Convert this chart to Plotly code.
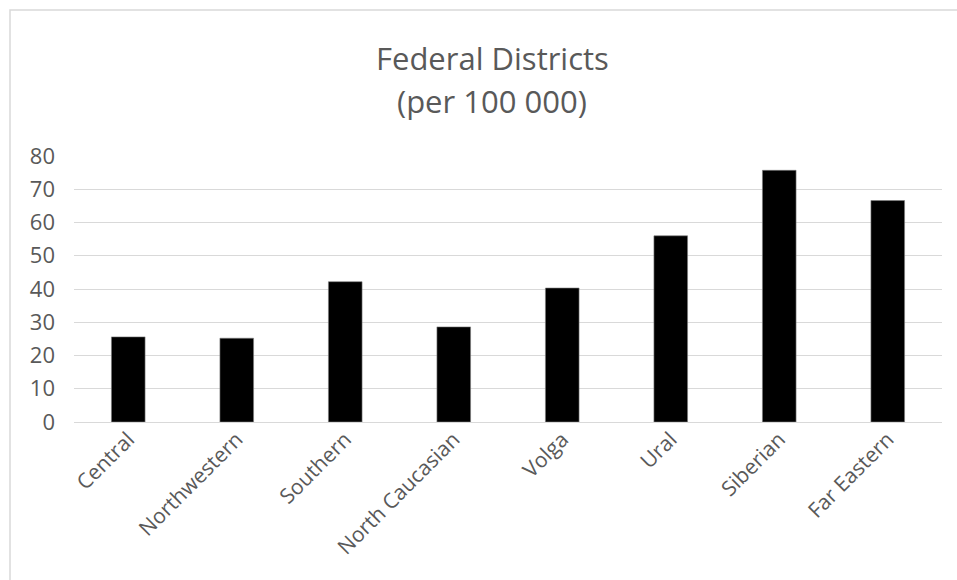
import plotly.graph_objects as go

# Rate by federal district, per 100 000 population
districts = ["Central", "Northwestern", "Southern", "North Caucasian",
             "Volga", "Ural", "Siberian", "Far Eastern"]
rates = [25.6, 25.2, 42.2, 28.6, 40.3, 56.0, 75.7, 66.6]
y_ticks = [0, 10, 20, 30, 40, 50, 60, 70, 80]

W, H = 957, 580
ML, MR, MT, MB = 74, 15, 156, 158
PW, PH = W - ML - MR, H - MT - MB

GRAY_TXT = "#595959"
GRID = "#d9d9d9"
FONT = "Open Sans"

fig = go.Figure(
    go.Bar(
        x=districts,
        y=rates,
        marker=dict(color="#000000", line=dict(color="#7f7f7f", width=0.6)),
        width=0.31,
        hoverinfo="x+y",
    )
)


def px_x(px):
    return (px - ML) / PW


def px_y(py):
    return (H - MB - py) / PH


fig.update_layout(
    width=W,
    height=H,
    margin=dict(l=ML, r=MR, t=MT, b=MB),
    paper_bgcolor="white",
    plot_bgcolor="white",
    showlegend=False,
    font=dict(family=FONT, color=GRAY_TXT),
    xaxis=dict(
        tickangle=-45,
        tickfont=dict(size=21, color=GRAY_TXT),
        showgrid=False,
        showline=False,
        ticks="",
        zeroline=False,
    ),
    yaxis=dict(
        range=[0, 80],
        tickvals=y_ticks,
        tickfont=dict(size=22, color=GRAY_TXT),
        showgrid=True,
        gridcolor=GRID,
        gridwidth=1,
        zeroline=True,
        zerolinecolor=GRID,
        zerolinewidth=1,
        showline=False,
        ticks="",
        ticklabelstandoff=18,
    ),
    annotations=[
        dict(text="Federal Districts", xref="paper", yref="paper",
             x=px_x(492), y=px_y(58), xanchor="center", yanchor="middle",
             showarrow=False, font=dict(size=31, color=GRAY_TXT, family=FONT)),
        dict(text="(per 100 000)", xref="paper", yref="paper",
             x=px_x(492), y=px_y(101), xanchor="center", yanchor="middle",
             showarrow=False, font=dict(size=31, color=GRAY_TXT, family=FONT)),
    ],
    shapes=[
        dict(type="rect", xref="paper", yref="paper",
             x0=px_x(10), x1=px_x(990), y0=px_y(620), y1=px_y(10),
             line=dict(color=GRID, width=1.5), fillcolor="rgba(0,0,0,0)",
             layer="below"),
    ],
)

fig.write_html("out.html")
